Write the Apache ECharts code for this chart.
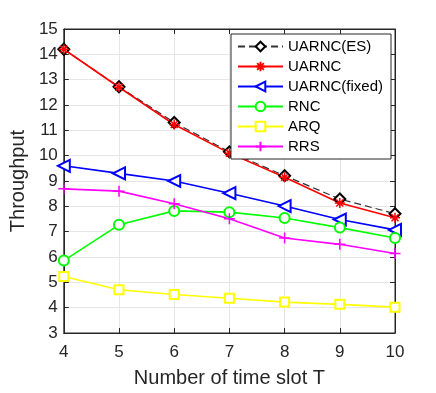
<!DOCTYPE html>
<html>
<head>
<meta charset="utf-8">
<script src="https://cdn.jsdelivr.net/npm/echarts@6/dist/echarts.min.js"></script>
<style>
html,body{margin:0;padding:0;background:#fff;}
#main{width:436px;height:393px;}
</style>
</head>
<body>
<div id="main"></div>
<script>
var slots=[4,5,6,7,8,9,10];
var uarncES=[14.2,12.72,11.31,10.15,9.21,8.29,7.71];
var uarnc=[14.2,12.7,11.23,10.1,9.15,8.13,7.55];
var uarncFixed=[9.6,9.3,9.0,8.52,8.01,7.48,7.07];
var rnc=[5.86,7.27,7.82,7.77,7.54,7.16,6.75];
var arq=[5.23,4.71,4.52,4.37,4.22,4.13,4.02];
var rrs=[8.69,8.6,8.1,7.51,6.75,6.5,6.14];

var font='"Liberation Sans", Arial, sans-serif';
var axisCol='#262626';
var star='path://M0,-10L0,10M-10,0L10,0M-7,-7L7,7M-7,7L7,-7';
var plus='path://M0,-10L0,10M-10,0L10,0';

function pairs(arr){
	var out=[];
	for(var i=0;i<slots.length;i++){
		out.push([slots[i],arr[i]]);
	}
	return out;
}

function mk(name,arr,color,symbol,size,opt){
	var s={
		name:name,
		type:'line',
		data:pairs(arr),
		symbol:symbol,
		symbolSize:size,
		showAllSymbol:true,
		lineStyle:{color:color,width:1.6},
		itemStyle:{color:color,borderColor:color,borderWidth:1.5},
		emphasis:{disabled:true},
		animation:false,
		z:3
	};
	if(opt){
		for(var k in opt){ s[k]=opt[k]; }
	}
	return s;
}

var chart=echarts.init(document.getElementById('main'));
var option={
	backgroundColor:'#fff',
	textStyle:{fontFamily:font},
	grid:{left:58,right:41,top:29,bottom:58,show:true,borderColor:axisCol,borderWidth:1},
	legend:{
		right:45,top:34,
		orient:'vertical',
		itemWidth:45,itemHeight:12,itemGap:5,
		backgroundColor:'#fff',
		borderColor:axisCol,borderWidth:1,borderRadius:0,
		padding:[5,8,5,6],
		textStyle:{fontSize:15,color:'#000',fontFamily:font},
		data:['UARNC(ES)','UARNC','UARNC(fixed)','RNC','ARQ','RRS']
	},
	xAxis:[{
		type:'value',min:4,max:10,interval:1,
		name:'Number of time slot T',nameLocation:'middle',nameGap:35,
		nameTextStyle:{fontSize:20,color:axisCol,fontFamily:font},
		axisLine:{show:true,onZero:false,lineStyle:{color:axisCol}},
		axisTick:{show:true,inside:true,length:5,lineStyle:{color:axisCol}},
		axisLabel:{fontSize:17,color:axisCol,margin:11,fontFamily:font},
		splitLine:{show:true,lineStyle:{color:'#e6e6e6'}}
	},{
		type:'value',min:4,max:10,interval:1,position:'top',
		axisLine:{show:true,lineStyle:{color:axisCol}},
		axisTick:{show:true,inside:true,length:5,lineStyle:{color:axisCol}},
		axisLabel:{show:false},splitLine:{show:false}
	}],
	yAxis:[{
		type:'value',min:3,max:15,interval:1,
		name:'Throughput',nameLocation:'middle',nameGap:34,
		nameTextStyle:{fontSize:20,color:axisCol,fontFamily:font},
		axisLine:{show:true,onZero:false,lineStyle:{color:axisCol}},
		axisTick:{show:true,inside:true,length:5,lineStyle:{color:axisCol}},
		axisLabel:{fontSize:17,color:axisCol,margin:6,fontFamily:font},
		splitLine:{show:true,lineStyle:{color:'#e6e6e6'}}
	},{
		type:'value',min:3,max:15,interval:1,position:'right',
		axisLine:{show:true,lineStyle:{color:axisCol}},
		axisTick:{show:true,inside:true,length:5,lineStyle:{color:axisCol}},
		axisLabel:{show:false},splitLine:{show:false}
	}],
	series:[
		mk('UARNC(ES)',uarncES,'#000','emptyDiamond',11,{lineStyle:{color:'#333',width:1.2,type:[7,4]},itemStyle:{color:'#000',borderColor:'#000',borderWidth:1.2}}),
		mk('UARNC',uarnc,'#ff0000',star,10),
		mk('UARNC(fixed)',uarncFixed,'#0000ff','emptyTriangle',12,{symbolRotate:90}),
		mk('RNC',rnc,'#00ff00','emptyCircle',10),
		mk('ARQ',arq,'#ffff00','emptyRect',9),
		mk('RRS',rrs,'#ff00ff',plus,11)
	]
};
chart.setOption(option);
</script>
</body>
</html>
